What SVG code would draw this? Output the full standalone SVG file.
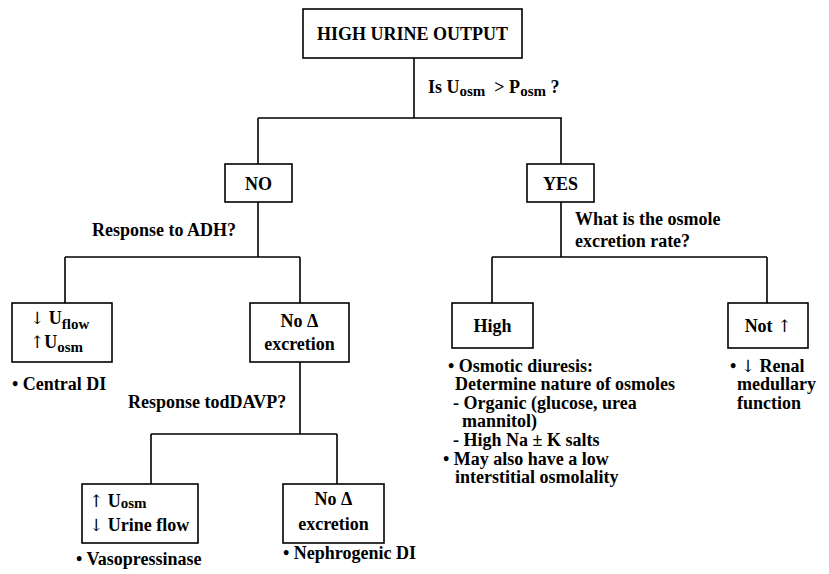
<svg xmlns="http://www.w3.org/2000/svg" width="829" height="574" viewBox="0 0 829 574">
  <style>
    .box { fill: #fff; stroke: #000; stroke-width: 1.6; }
    .wire { fill: none; stroke: #000; stroke-width: 1.6; }
    svg text { font-family: 'Liberation Serif', serif; font-weight: 700; font-size: 18px; fill: #000; }
    .c { text-anchor: middle; }
    svg .sub { font-size: 15px; }
    svg .arr { font-family: 'DejaVu Serif', 'Liberation Serif', serif; font-weight: 400; font-size: 17px; }
  </style>
  <rect width="829" height="574" fill="#fff"/>

  <!-- tree connectors -->
  <g id="connectors">
    <path class="wire" d="M414,58 V118 M258,118 H562 M258,118 V164 M561,118 V164"/>
    <path class="wire" d="M258,202 V257 M65,257 H300 M65,257 V303 M300,257 V303"/>
    <path class="wire" d="M561,202 V257 M492,257 H767 M492,257 V303 M767,257 V303"/>
    <path class="wire" d="M300,362 V434 M151,434 H337 M151,434 V484 M337,434 V484"/>
  </g>

  <!-- question labels on the branches -->
  <g id="questions">
    <text x="428" y="93">Is U<tspan class="sub" dy="3">osm</tspan><tspan dy="-3">&#160; &gt; P</tspan><tspan class="sub" dy="3">osm</tspan><tspan dy="-3"> ?</tspan></text>
    <text x="92" y="236">Response to ADH?</text>
    <text x="575" y="225">What is the osmole</text>
    <text x="575" y="247">excretion rate?</text>
    <text x="128" y="408">Response todDAVP?</text>
  </g>

  <g id="root">
    <rect class="box" x="303" y="9" width="219" height="49"/>
    <text class="c" x="412.5" y="40">HIGH URINE OUTPUT</text>
  </g>

  <g id="no">
    <rect class="box" x="225" y="164" width="67" height="38"/>
    <text class="c" x="258.5" y="190">NO</text>
  </g>

  <g id="yes">
    <rect class="box" x="527" y="164" width="67" height="38"/>
    <text class="c" x="560.5" y="190">YES</text>
  </g>

  <g id="adh-response">
    <rect class="box" x="12" y="303" width="100" height="59"/>
    <text x="30" y="324"><tspan class="arr">↓</tspan> U<tspan class="sub" dy="5">flow</tspan></text>
    <text x="30" y="348"><tspan class="arr">↑</tspan>U<tspan class="sub" dy="4">osm</tspan></text>
    <text x="12" y="390">• Central DI</text>
  </g>

  <g id="adh-no-change">
    <rect class="box" x="250" y="303" width="99" height="59"/>
    <text class="c" x="299.5" y="327">No Δ</text>
    <text class="c" x="299.5" y="350">excretion</text>
  </g>

  <g id="ddavp-response">
    <rect class="box" x="82" y="484" width="116" height="59"/>
    <text x="89" y="507"><tspan class="arr">↑</tspan> U<tspan class="sub" dy="1">osm</tspan></text>
    <text x="89" y="531"><tspan class="arr">↓</tspan> Urine flow</text>
    <text x="76" y="565">• Vasopressinase</text>
  </g>

  <g id="ddavp-no-change">
    <rect class="box" x="283" y="484" width="101" height="59"/>
    <text class="c" x="333.5" y="505">No Δ</text>
    <text class="c" x="333.5" y="530">excretion</text>
    <text x="283" y="559">• Nephrogenic DI</text>
  </g>

  <g id="high">
    <rect class="box" x="452" y="303" width="81" height="45"/>
    <text class="c" x="492.5" y="332">High</text>
    <text x="448" y="372">• Osmotic diuresis:</text>
    <text x="455" y="390">Determine nature of osmoles</text>
    <text x="453" y="409">- Organic (glucose, urea</text>
    <text x="462" y="427">mannitol)</text>
    <text x="453" y="446">- High Na ± K salts</text>
    <text x="443" y="465">• May also have a low</text>
    <text x="455" y="483">interstitial osmolality</text>
  </g>

  <g id="not-high">
    <rect class="box" x="728" y="303" width="80" height="45"/>
    <text class="c" x="768" y="332">Not <tspan class="arr">↑</tspan></text>
    <text x="730" y="372">• <tspan class="arr">↓</tspan> Renal</text>
    <text x="737" y="390">medullary</text>
    <text x="737" y="409">function</text>
  </g>
</svg>
